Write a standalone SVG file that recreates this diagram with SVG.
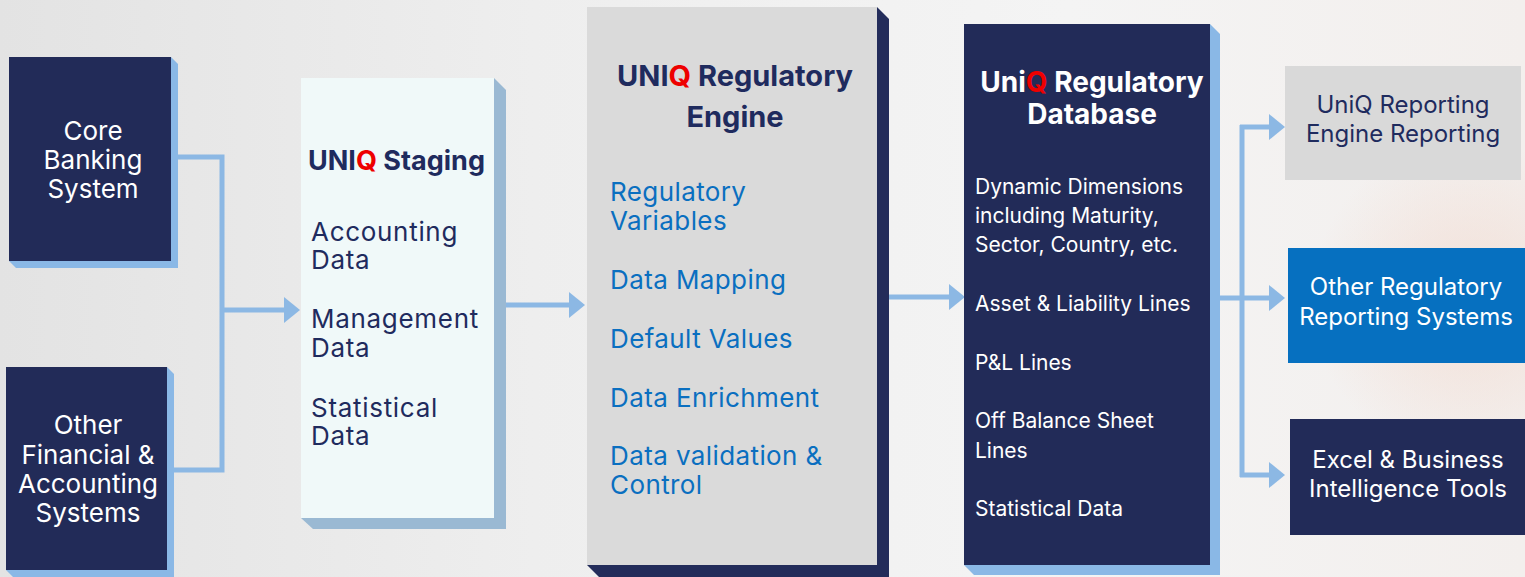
<svg xmlns="http://www.w3.org/2000/svg" width="1525" height="577" viewBox="0 0 1525 577">
<defs>
<linearGradient id="bg" x1="0" y1="0" x2="1" y2="0">
<stop offset="0" stop-color="#e3e3e3"/>
<stop offset="0.35" stop-color="#eeeeee"/>
<stop offset="0.7" stop-color="#f4f4f4"/>
<stop offset="1" stop-color="#f3efed"/>
</linearGradient>
<radialGradient id="peach" cx="1470" cy="300" r="160" gradientUnits="userSpaceOnUse">
<stop offset="0" stop-color="#f2dcd2" stop-opacity="0.8"/>
<stop offset="1" stop-color="#f2dcd2" stop-opacity="0"/>
</radialGradient>
<marker id="ah" markerUnits="userSpaceOnUse" markerWidth="16" markerHeight="26" refX="0" refY="13" orient="auto">
<path d="M0,0 L16,13 L0,26 z" fill="#8cb8e4"/>
</marker>
<style>
.t{font-family:Inter,"Liberation Sans",sans-serif}
.w{fill:#ffffff}
.nv{fill:#1f2b5e}
.bl{fill:#0a6fc0}
.dark{fill:#222b58}
.sh{fill:#8ab8e6}
.conn{fill:none;stroke:#8cb8e4;stroke-width:5}
.b{font-weight:700}
.red{fill:#ee0000}
</style>
</defs>
<rect width="1525" height="577" fill="url(#bg)"/>
<rect width="1525" height="577" fill="url(#peach)"/>

<g id="connectors">
<path class="conn" d="M178,157 H222 V470 H174"/>
<path class="conn" d="M222,310 H284" marker-end="url(#ah)"/>
<path class="conn" d="M506,305 H569" marker-end="url(#ah)"/>
<path class="conn" d="M889,297 H949" marker-end="url(#ah)"/>
<path class="conn" d="M1220,298 H1242 M1242,125 V477"/>
<path class="conn" d="M1240,127 H1269" marker-end="url(#ah)"/>
<path class="conn" d="M1242,298 H1269" marker-end="url(#ah)"/>
<path class="conn" d="M1240,475 H1269" marker-end="url(#ah)"/>
</g>

<g id="core-banking">
<polygon class="sh" points="171,57 178,64 178,268 16,268 9,261"/>
<rect class="dark" x="9" y="57" width="162" height="204"/>
<text class="t w" font-size="26" text-anchor="middle"><tspan x="93" y="140">Core</tspan><tspan x="93" y="169">Banking</tspan><tspan x="93" y="198">System</tspan></text>
</g>

<g id="other-financial">
<polygon class="sh" points="167,367 174,374 174,577 13,577 6,570"/>
<rect class="dark" x="6" y="367" width="161" height="203"/>
<text class="t w" font-size="26" text-anchor="middle"><tspan x="88" y="434">Other</tspan><tspan x="88" y="464">Financial &amp;</tspan><tspan x="88" y="493">Accounting</tspan><tspan x="88" y="522">Systems</tspan></text>
</g>

<g id="staging">
<polygon fill="#9ab9d3" points="494,78 506,90 506,529 313,529 301,518"/>
<rect fill="#f0f9f9" x="301" y="78" width="193" height="440"/>
<text class="t b nv" font-size="27" x="308" y="170">UNI<tspan class="red">Q</tspan> Staging</text>
<text class="t nv" font-size="26" letter-spacing="0.7"><tspan x="311" y="241">Accounting</tspan><tspan x="311" y="269">Data</tspan><tspan x="311" y="328">Management</tspan><tspan x="311" y="357">Data</tspan><tspan x="311" y="417">Statistical</tspan><tspan x="311" y="445">Data</tspan></text>
</g>

<g id="engine">
<polygon fill="#232c5a" points="877,7 889,19 889,577 599,577 587,565"/>
<rect fill="#dadada" x="587" y="7" width="290" height="558"/>
<text class="t b nv" font-size="29" text-anchor="middle"><tspan x="735" y="86">UNI<tspan class="red">Q</tspan> Regulatory</tspan><tspan x="735" y="127">Engine</tspan></text>
<text class="t bl" font-size="26" letter-spacing="0.4"><tspan x="610" y="201">Regulatory</tspan><tspan x="610" y="230">Variables</tspan><tspan x="610" y="289">Data Mapping</tspan><tspan x="610" y="348">Default Values</tspan><tspan x="610" y="407">Data Enrichment</tspan><tspan x="610" y="465">Data validation &amp;</tspan><tspan x="610" y="494">Control</tspan></text>
</g>

<g id="database">
<polygon class="sh" points="1210,24 1220,34 1220,575 974,575 964,565"/>
<rect class="dark" x="964" y="24" width="246" height="541"/>
<text class="t b w" font-size="28" text-anchor="middle"><tspan x="1092" y="92">Uni<tspan class="red">Q</tspan> Regulatory</tspan><tspan x="1092" y="124">Database</tspan></text>
<text class="t w" font-size="21"><tspan x="975" y="194">Dynamic Dimensions</tspan><tspan x="975" y="223">including Maturity,</tspan><tspan x="975" y="252">Sector, Country, etc.</tspan><tspan x="975" y="311">Asset &amp; Liability Lines</tspan><tspan x="975" y="370">P&amp;L Lines</tspan><tspan x="975" y="428">Off Balance Sheet</tspan><tspan x="975" y="458">Lines</tspan><tspan x="975" y="516">Statistical Data</tspan></text>
</g>

<g id="uniq-reporting">
<rect fill="#d9d9d9" x="1285" y="66" width="236" height="114"/>
<text class="t nv" font-size="24" text-anchor="middle"><tspan x="1403" y="113">UniQ Reporting</tspan><tspan x="1403" y="142">Engine Reporting</tspan></text>
</g>

<g id="other-regulatory">
<rect fill="#0670c0" x="1288" y="248" width="237" height="115"/>
<text class="t w" font-size="24" text-anchor="middle"><tspan x="1406" y="295">Other Regulatory</tspan><tspan x="1406" y="325">Reporting Systems</tspan></text>
</g>

<g id="excel-bi">
<rect class="dark" x="1290" y="419" width="235" height="116"/>
<text class="t w" font-size="24" text-anchor="middle"><tspan x="1408" y="468">Excel &amp; Business</tspan><tspan x="1408" y="497">Intelligence Tools</tspan></text>
</g>
</svg>
